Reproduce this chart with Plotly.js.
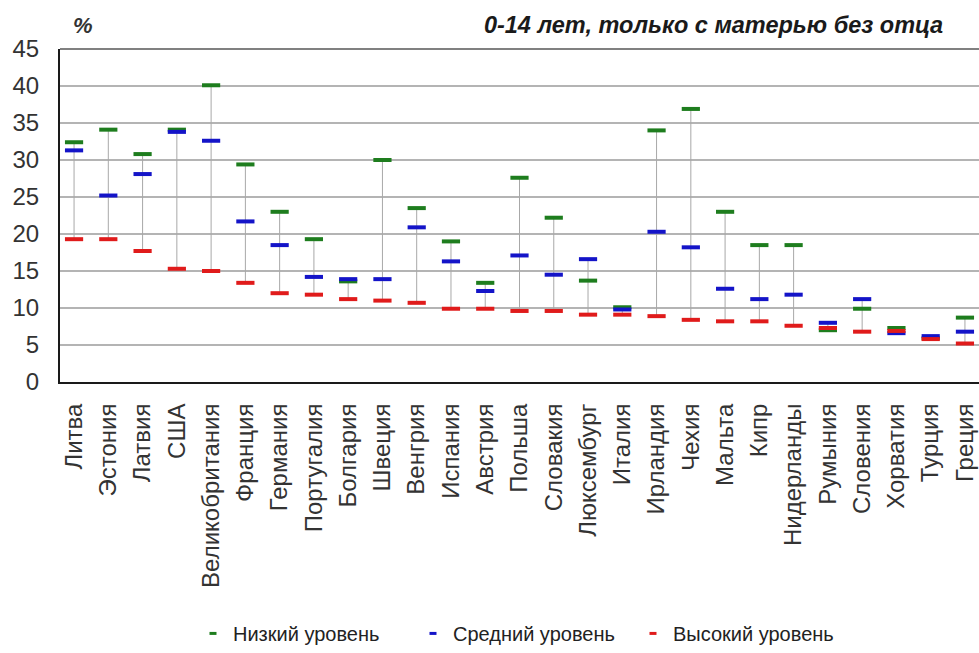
<!DOCTYPE html>
<html>
<head>
<meta charset="utf-8">
<script src="https://cdn.plot.ly/plotly-3.0.1.min.js"></script>
<style>html,body{margin:0;padding:0;background:#fff;}#chart{width:979px;height:653px;}</style>
</head>
<body>
<div id="chart"></div>
<script>
const categories = ["Литва","Эстония","Латвия","США","Великобритания","Франция","Германия","Португалия","Болгария","Швеция","Венгрия","Испания","Австрия","Польша","Словакия","Люксембург","Италия","Ирландия","Чехия","Мальта","Кипр","Нидерланды","Румыния","Словения","Хорватия","Турция","Греция"];
const lowLevel  = [32.4,34.1,30.8,34.1,40.1,29.4,23.0,19.3,13.6,30.0,23.5,19.0,13.4,27.6,22.2,13.7,10.1,34.0,36.9,23.0,18.5,18.5,7.0,9.9,7.3,5.9,8.7];
const midLevel  = [31.3,25.2,28.1,33.8,32.6,21.7,18.5,14.2,13.9,13.9,20.9,16.3,12.3,17.1,14.5,16.6,9.8,20.3,18.2,12.6,11.2,11.8,8.0,11.2,6.6,6.2,6.8];
const highLevel = [19.3,19.3,17.7,15.3,15.0,13.4,12.0,11.8,11.2,11.0,10.7,9.9,9.9,9.6,9.6,9.1,9.1,8.9,8.4,8.2,8.2,7.6,7.3,6.8,6.9,5.8,5.2];
const seriesNames = ["Низкий уровень","Средний уровень","Высокий уровень"];
const yTicks = [0,5,10,15,20,25,30,35,40,45];
const titleText = "0-14 лет, только с матерью без отца";
const unitText = "%";

const colors = ["#1e7d1e","#1414c8","#e01b1b"];
const series = [lowLevel, midLevel, highLevel];

// hi-lo connector lines built from data
const lx = [], ly = [];
categories.forEach((c,i)=>{
  const vals = series.map(s=>s[i]);
  lx.push(c,c,null);
  ly.push(Math.min(...vals), Math.max(...vals), null);
});
const traces = [{
  type:'scatter', mode:'lines', x:lx, y:ly, showlegend:false, hoverinfo:'skip',
  line:{color:'#a8a8a8', width:1}
}];
series.forEach((s,k)=>{
  traces.push({
    type:'scatter', mode:'markers', x:categories, y:s, name:seriesNames[k],
    showlegend:false, legendgroup:'g'+k,
    marker:{symbol:'line-ew', size:13, line:{color:colors[k], width:4}}
  });
});
// legend entries (small dash symbol)
series.forEach((s,k)=>{
  traces.push({
    type:'scatter', mode:'markers', x:[null], y:[null], name:seriesNames[k],
    legendgroup:'g'+k, showlegend:true,
    marker:{symbol:'line-ew', size:5, line:{color:colors[k], width:3}}
  });
});

const font = "Liberation Sans, Arial, sans-serif";
const layout = {
  width:979, height:653,
  margin:{l:60, r:0, t:49, b:269},
  paper_bgcolor:'#ffffff', plot_bgcolor:'#ffffff',
  font:{family:font, color:'#333333'},
  title:{text:'<b><i>'+titleText+'</i></b>', x:943/979, xanchor:'right', y:1-25/653, yanchor:'middle',
         font:{family:font, size:23.5, color:'#1a1a1a'}},
  xaxis:{type:'category', categoryorder:'array', categoryarray:categories,
         range:[-0.41, 26.41], showgrid:false, zeroline:false,
         showline:true, linecolor:'#1a1a1a', linewidth:2,
         tickangle:-90, ticks:'', ticklabelstandoff:10,
         tickfont:{family:font, size:24, color:'#333333'}},
  yaxis:{range:[0,45], tickvals:yTicks, ticktext:yTicks.map(String),
         showgrid:true, gridcolor:'#b4b4b4', gridwidth:1.5, zeroline:false,
         showline:true, linecolor:'#1a1a1a', linewidth:2, ticks:'', ticklabelstandoff:14,
         tickfont:{family:font, size:24, color:'#333333'}},
  legend:{orientation:'h', x:0.5038, xanchor:'center', y:-0.755, yanchor:'middle',
          entrywidth:175, entrywidthmode:'pixels',
          font:{family:font, size:20, color:'#222222'}, bgcolor:'rgba(0,0,0,0)'},
  shapes:[{type:'line', xref:'paper', yref:'paper', x0:0, x1:1, y0:1, y1:1,
           line:{color:'#808080', width:2}}],
  annotations:[{text:'<b><i>'+unitText+'</i></b>', xref:'paper', yref:'paper',
                x:(83-60)/919, y:(384-25)/335, xanchor:'center', yanchor:'middle',
                showarrow:false, font:{family:font, size:22, color:'#333333'}}]
};
Plotly.newPlot('chart', traces, layout, {displayModeBar:false, staticPlot:true});
</script>
</body>
</html>
